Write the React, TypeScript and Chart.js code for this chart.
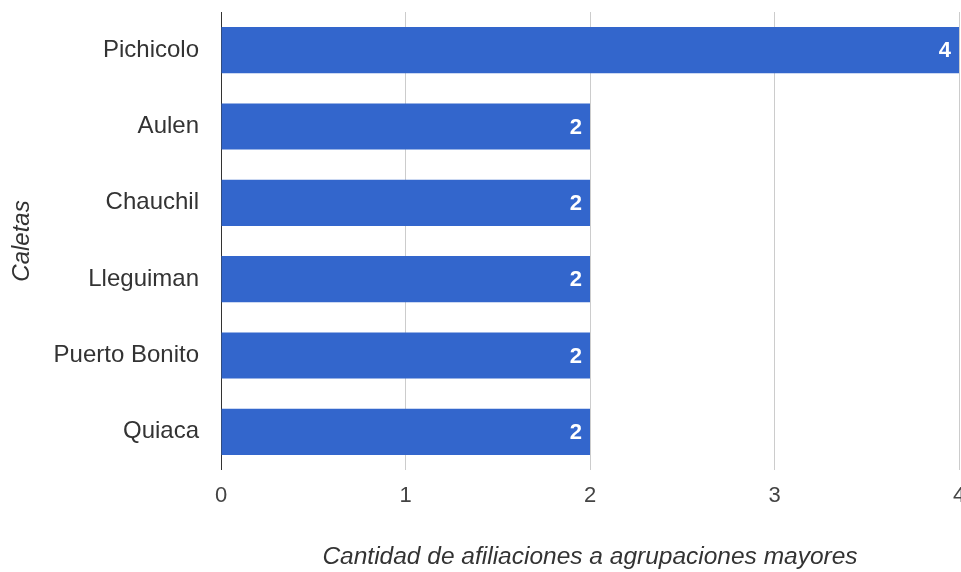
import React, { useEffect, useRef } from "react";
import { Chart, registerables } from "chart.js";

Chart.register(...registerables);

const categories = ["Pichicolo", "Aulen", "Chauchil", "Lleguiman", "Puerto Bonito", "Quiaca"];
const values = [4, 2, 2, 2, 2, 2];
const xTicks = [0, 1, 2, 3, 4];
const xTitle = "Cantidad de afiliaciones a agrupaciones mayores";
const yTitle = "Caletas";

const FONT = "'Liberation Sans', Arial, sans-serif";

const barLabels = {
  id: "barLabels",
  afterDatasetsDraw(chart: any) {
    const ctx = chart.ctx;
    const meta = chart.getDatasetMeta(0);
    ctx.save();
    ctx.fillStyle = "#ffffff";
    ctx.font = `bold 22px ${FONT}`;
    ctx.textAlign = "right";
    ctx.textBaseline = "middle";
    meta.data.forEach((bar: any, i: number) => {
      ctx.fillText(String(values[i]), bar.x - 8, bar.y + 1);
    });
    ctx.restore();
  },
};

export default function App() {
  const ref = useRef<HTMLCanvasElement>(null);
  useEffect(() => {
    document.body.style.margin = "0";
    const chart = new Chart(ref.current!, {
      type: "bar",
      data: {
        labels: categories,
        datasets: [
          {
            data: values,
            backgroundColor: "#3366CC",
            borderWidth: 0,
            barPercentage: 0.604,
            categoryPercentage: 1,
          },
        ],
      },
      plugins: [barLabels],
      options: {
        indexAxis: "y",
        responsive: false,
        animation: false,
        layout: { padding: { top: 12, right: 2, left: 0, bottom: 0 } },
        plugins: { legend: { display: false }, tooltip: { enabled: false } },
        scales: {
          x: {
            min: 0,
            max: 4,
            afterBuildTicks(scale: any) {
              scale.ticks = xTicks.map((v) => ({ value: v }));
            },
            afterFit(scale: any) {
              scale.height = 102;
              scale.paddingRight = 0;
              scale.paddingLeft = 0;
            },
            border: { display: false },
            grid: {
              color: (c: any) => (c.index === 0 ? "#333333" : "#cccccc"),
              lineWidth: 1,
              drawTicks: false,
            },
            ticks: {
              color: "#444444",
              font: { family: FONT, size: 22 },
              padding: 13,
              maxRotation: 0,
              autoSkip: false,
            },
            title: {
              display: true,
              text: xTitle,
              color: "#333333",
              font: { family: FONT, size: 24.5, style: "italic" },
              padding: { top: 0, bottom: 0 },
            },
          },
          y: {
            afterFit(scale: any) {
              scale.width = 221;
              scale.paddingTop = 0;
              scale.paddingBottom = 0;
            },
            border: { display: false },
            grid: { display: false, drawTicks: false },
            ticks: {
              color: "#333333",
              font: { family: FONT, size: 24 },
              padding: 22,
            },
            title: {
              display: true,
              text: yTitle,
              color: "#333333",
              font: { family: FONT, size: 24, style: "italic" },
              padding: { top: 8, bottom: 0 },
            },
          },
        },
      },
    });
    return () => chart.destroy();
  }, []);
  return (
    <div style={{ width: 961, height: 572 }}>
      <canvas ref={ref} width={961} height={572} />
    </div>
  );
}
